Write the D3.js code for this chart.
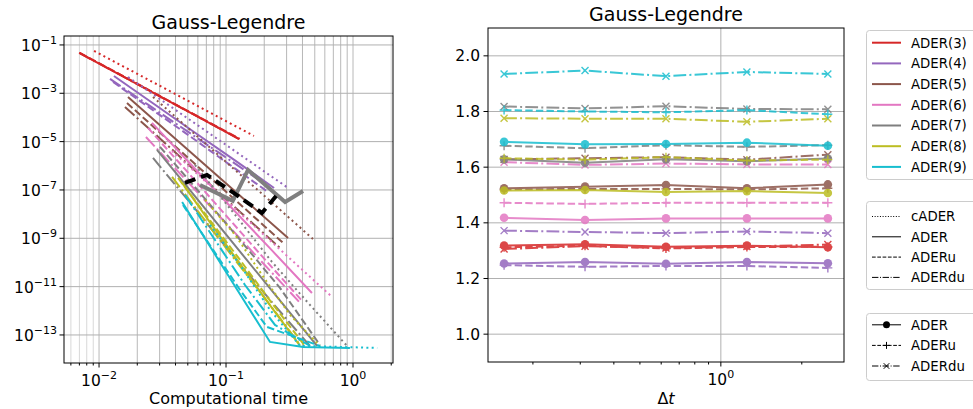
<!DOCTYPE html>
<html>
<head>
<meta charset="utf-8">
<script src="https://cdn.jsdelivr.net/npm/d3@7"></script>
<style>
  body { margin: 0; background: #fff; }
  svg { font-family: "DejaVu Sans", sans-serif; }
</style>
</head>
<body>
<svg id="chart" width="973" height="409"></svg>
<script>
// ---------- data ----------
const orders = ["ADER(3)", "ADER(4)", "ADER(5)", "ADER(6)", "ADER(7)", "ADER(8)", "ADER(9)"];
const colors = ["#d62728", "#9467bd", "#8c564b", "#e377c2", "#7f7f7f", "#bcbd22", "#17becf"];

// left panel: [computational time, error] per order
const cADERpts = [
  [[0.00914, 0.0565], [0.0189, 7.46e-3], [0.0390, 9.84e-4], [0.0805, 1.30e-4], [0.166, 1.72e-5]],
  [[0.0169, 4.74e-3], [0.0349, 3.37e-4], [0.0721, 2.40e-5], [0.149, 1.71e-6], [0.308, 1.21e-7]],
  [[0.0266, 7.06e-4], [0.0549, 2.40e-5], [0.113, 8.15e-7], [0.234, 2.77e-8], [0.484, 9.40e-10]],
  [[0.0376, 4.11e-6], [0.0776, 1.27e-7], [0.160, 3.93e-9], [0.331, 1.21e-10], [0.684, 3.75e-12]],
  [[0.0570, 1.08e-6], [0.118, 9.25e-9], [0.230, 1.05e-10], [0.458, 1.75e-12], [0.898, 3.52e-14]],
  [[0.0684, 3.87e-8], [0.118, 1.38e-9], [0.192, 3.05e-11], [0.319, 6.75e-13], [0.549, 3.52e-14]],
  [[0.0748, 3.57e-9], [0.129, 7.91e-11], [0.222, 1.09e-12], [0.383, 3.52e-14], [1.55, 2.91e-14]]
];
const ADERpts = [
  [[0.00697, 0.0467], [0.0144, 6.03e-3], [0.0297, 7.76e-4], [0.0613, 1.0e-4], [0.126, 1.29e-5]],
  [[0.0131, 5.21e-3], [0.0271, 3.62e-4], [0.0560, 2.51e-5], [0.116, 1.75e-6], [0.239, 1.21e-7]],
  [[0.0169, 7.06e-4], [0.0349, 2.46e-5], [0.0721, 8.55e-7], [0.149, 2.97e-8], [0.308, 1.03e-9]],
  [[0.0261, 5.93e-5], [0.0539, 1.03e-6], [0.111, 1.80e-8], [0.230, 3.15e-10], [0.475, 5.48e-12]],
  [[0.0286, 4.53e-6], [0.0592, 4.25e-8], [0.122, 3.99e-10], [0.252, 3.75e-12], [0.521, 3.52e-14]],
  [[0.0451, 1.95e-7], [0.0762, 3.93e-9], [0.129, 8.69e-11], [0.218, 1.92e-12], [0.383, 3.52e-14]],
  [[0.0451, 3.19e-8], [0.100, 4.06e-11], [0.222, 5.15e-14], [0.404, 3.2e-14], [0.946, 2.91e-14]]
];
const ADERuPts = [
  [[0.00705, 0.0470], [0.0146, 6.1e-3], [0.0300, 7.8e-4], [0.0620, 1.0e-4], [0.128, 1.3e-5]],
  [[0.0129, 2.94e-3], [0.0261, 2.14e-4], [0.0530, 1.56e-5], [0.106, 1.14e-6], [0.214, 8.28e-8]],
  [[0.0166, 3.98e-4], [0.0337, 1.39e-5], [0.0690, 4.82e-7], [0.141, 1.68e-8], [0.287, 5.85e-10]],
  [[0.0243, 3.68e-5], [0.0493, 5.83e-7], [0.0991, 9.25e-9], [0.199, 1.47e-10], [0.404, 2.33e-12]],
  [[0.0302, 6.03e-6], [0.0624, 7.53e-8], [0.129, 8.55e-10], [0.266, 8.83e-12], [0.549, 3.87e-14]],
  [[0.0419, 3.14e-7], [0.0734, 6.32e-9], [0.129, 1.27e-10], [0.226, 2.33e-12], [0.419, 3.52e-14]],
  [[0.0458, 2.40e-8], [0.0791, 3.30e-10], [0.129, 7.29e-12], [0.210, 2.15e-13], [0.549, 3.52e-14]]
];
const ADERduPts = [
  [[0.00700, 0.0465], [0.0145, 6.0e-3], [0.0298, 7.7e-4], [0.0616, 1.0e-4], [0.127, 1.28e-5]],
  [[0.0122, 3.92e-3], [0.0243, 3.37e-4], [0.0484, 2.90e-5], [0.0964, 2.50e-6], [0.192, 2.15e-7]],
  [[0.0160, 2.72e-4], [0.0325, 9.46e-6], [0.0653, 3.30e-7], [0.131, 1.15e-8], [0.266, 3.99e-10]],
  [[0.0234, 1.56e-5], [0.0471, 3.00e-7], [0.0946, 5.75e-9], [0.190, 1.10e-10], [0.383, 2.12e-12]],
  [[0.0266, 2.11e-6], [0.0539, 2.40e-8], [0.109, 2.48e-10], [0.222, 2.82e-12], [0.458, 3.52e-14]],
  [[0.0376, 3.46e-7], [0.0659, 6.95e-9], [0.118, 1.27e-10], [0.210, 2.56e-12], [0.383, 3.87e-14]],
  [[0.0475, 6.22e-8], [0.0819, 8.55e-10], [0.141, 1.17e-11], [0.243, 2.60e-13], [0.458, 3.52e-14]]
];
const thickBlackPts = [[0.0475, 1.95e-7], [0.0708, 4.18e-7], [0.118, 6.84e-8], [0.192, 1.12e-8], [0.248, 5.66e-8]];
const thickGrayPts = [[0.0624, 1.61e-7], [0.113, 3.52e-8], [0.149, 6.73e-7], [0.292, 3.19e-8], [0.404, 9.10e-8]];

// right panel
const dtValues = [0.15625, 0.3125, 0.625, 1.25, 2.5];
const rateADER = [
  [1.318, 1.323, 1.314, 1.318, 1.312],
  [1.254, 1.259, 1.253, 1.259, 1.255],
  [1.524, 1.530, 1.536, 1.524, 1.538],
  [1.418, 1.410, 1.416, 1.416, 1.416],
  [1.628, 1.616, 1.628, 1.621, 1.631],
  [1.516, 1.518, 1.511, 1.514, 1.507],
  [1.691, 1.682, 1.683, 1.688, 1.677]
];
const rateADERu = [
  [1.312, 1.318, 1.308, 1.313, 1.314],
  [1.248, 1.242, 1.245, 1.245, 1.238],
  [1.520, 1.522, 1.522, 1.520, 1.524],
  [1.472, 1.468, 1.472, 1.472, 1.472],
  [1.677, 1.668, 1.679, 1.673, 1.679],
  [1.632, 1.627, 1.636, 1.624, 1.627],
  [1.805, 1.800, 1.797, 1.805, 1.790]
];
const rateADERdu = [
  [1.306, 1.316, 1.310, 1.315, 1.322],
  [1.372, 1.367, 1.363, 1.369, 1.363],
  [1.628, 1.632, 1.636, 1.627, 1.645],
  [1.618, 1.608, 1.613, 1.610, 1.610],
  [1.818, 1.811, 1.819, 1.809, 1.808],
  [1.776, 1.774, 1.774, 1.763, 1.774],
  [1.935, 1.947, 1.927, 1.942, 1.935]
];

// ticks
const leftXMajor = [0.01, 0.1, 1];
const leftXMinor = [0.006, 0.007, 0.008, 0.009, 0.02, 0.03, 0.04, 0.05, 0.06, 0.07, 0.08, 0.09,
                    0.2, 0.3, 0.4, 0.5, 0.6, 0.7, 0.8, 0.9, 2];
const leftYMajor = [1e-1, 1e-3, 1e-5, 1e-7, 1e-9, 1e-11, 1e-13];
const rightYTicks = [1.0, 1.2, 1.4, 1.6, 1.8, 2.0];
const rightXMajor = [1];
const rightXMinor = [0.2, 0.3, 0.4, 0.5, 0.6, 0.7, 0.8, 0.9, 2];

const styleNames = ["cADER", "ADER", "ADERu", "ADERdu"];
const markerNames = ["ADER", "ADERu", "ADERdu"];

// ---------- drawing ----------
const svg = d3.select("#chart");
const dashes = { dot: "2,3.3", solid: null, dash: "7.4,3.2", dashdot: "12.8,3.2,2,3.2" };

function superLabel(sel, exp, x, y, anchor) {
  const t = sel.append("text").attr("x", x).attr("y", y)
    .attr("text-anchor", anchor).attr("font-size", 15.5).attr("fill", "#000");
  t.append("tspan").text("10");
  t.append("tspan").attr("dy", -7).attr("font-size", 11).text(exp);
}

// left panel
const L = { x0: 64, x1: 393, y0: 36, y1: 363 };
const xL = d3.scaleLog().domain([Math.pow(10, -2.276), Math.pow(10, 0.315)]).range([L.x0, L.x1]);
const yL = d3.scaleLog().domain([Math.pow(10, -0.63), Math.pow(10, -14.16)]).range([L.y0, L.y1]);

svg.append("clipPath").attr("id", "clipL").append("rect")
  .attr("x", L.x0).attr("y", L.y0).attr("width", L.x1 - L.x0).attr("height", L.y1 - L.y0);

const gL = svg.append("g");
gL.selectAll(".vgrid").data(leftXMinor.concat(leftXMajor)).enter().append("line")
  .attr("x1", d => xL(d)).attr("x2", d => xL(d)).attr("y1", L.y0).attr("y2", L.y1)
  .attr("stroke", d => (d < 0.01 || d > 1) ? "#d8d8d8" : "#b8b8b8").attr("stroke-width", 1);
gL.selectAll(".hgrid").data(leftYMajor).enter().append("line")
  .attr("x1", L.x0).attr("x2", L.x1).attr("y1", d => yL(d)).attr("y2", d => yL(d))
  .attr("stroke", "#b0b0b0").attr("stroke-width", 1);

const lineL = d3.line().x(d => xL(d[0])).y(d => yL(d[1]));
const plotL = gL.append("g").attr("clip-path", "url(#clipL)");
for (let i = 0; i < orders.length; i++) {
  [[cADERpts, dashes.dot], [ADERpts, dashes.solid], [ADERuPts, dashes.dash], [ADERduPts, dashes.dashdot]]
    .forEach(([set, da]) => {
      plotL.append("path").datum(set[i]).attr("d", lineL)
        .attr("fill", "none").attr("stroke", colors[i]).attr("stroke-width", 2)
        .attr("stroke-dasharray", da);
    });
}
plotL.append("path").datum(thickGrayPts).attr("d", lineL)
  .attr("fill", "none").attr("stroke", "#7f7f7f").attr("stroke-width", 4);
plotL.append("path").datum(thickBlackPts).attr("d", lineL)
  .attr("fill", "none").attr("stroke", "#000").attr("stroke-width", 4)
  .attr("stroke-dasharray", "11,6");

gL.append("rect").attr("x", L.x0).attr("y", L.y0).attr("width", L.x1 - L.x0).attr("height", L.y1 - L.y0)
  .attr("fill", "none").attr("stroke", "#000").attr("stroke-width", 1);

gL.selectAll(".xt").data(leftXMajor).enter().append("line")
  .attr("x1", d => xL(d)).attr("x2", d => xL(d)).attr("y1", L.y1).attr("y2", L.y1 + 4.5).attr("stroke", "#000");
gL.selectAll(".xtm").data(leftXMinor).enter().append("line")
  .attr("x1", d => xL(d)).attr("x2", d => xL(d)).attr("y1", L.y1).attr("y2", L.y1 + 2.5).attr("stroke", "#000");
gL.selectAll(".yt").data(leftYMajor).enter().append("line")
  .attr("x1", L.x0 - 4.5).attr("x2", L.x0).attr("y1", d => yL(d)).attr("y2", d => yL(d)).attr("stroke", "#000");
leftXMajor.forEach(v => superLabel(gL, d3.format("d")(Math.log10(v)).replace("-", "\u2212"), xL(v), 386, "middle"));
leftYMajor.forEach(v => superLabel(gL, "\u2212" + Math.round(-Math.log10(v)), 57, yL(v) + 6, "end"));

gL.append("text").attr("x", (L.x0 + L.x1) / 2).attr("y", 29).attr("text-anchor", "middle")
  .attr("font-size", 19).text("Gauss-Legendre");
gL.append("text").attr("x", (L.x0 + L.x1) / 2).attr("y", 404).attr("text-anchor", "middle")
  .attr("font-size", 16).text("Computational time");
// y label sits mostly outside the page, as in the original figure
gL.append("text").attr("transform", "translate(-1,199) rotate(-90)").attr("text-anchor", "middle")
  .attr("font-size", 16).attr("fill", "#aaa").text("Error");

// right panel
const R = { x0: 488, x1: 844, y0: 28, y1: 362 };
const xR = d3.scaleLog().domain([Math.pow(10, -0.866), Math.pow(10, 0.458)]).range([R.x0, R.x1]);
const yR = d3.scaleLinear().domain([0.9, 2.1]).range([R.y1, R.y0]);

const gR = svg.append("g");
gR.selectAll(".hg").data(rightYTicks).enter().append("line")
  .attr("x1", R.x0).attr("x2", R.x1).attr("y1", d => yR(d)).attr("y2", d => yR(d))
  .attr("stroke", "#b0b0b0").attr("stroke-width", 1);
gR.selectAll(".vg").data(rightXMajor).enter().append("line")
  .attr("x1", d => xR(d)).attr("x2", d => xR(d)).attr("y1", R.y0).attr("y2", R.y1)
  .attr("stroke", "#b0b0b0").attr("stroke-width", 1);

const lineR = d3.line().x((d, j) => xR(dtValues[j])).y(d => yR(d));
const plusPath = "M-4.5,0H4.5M0,-4.5V4.5";
const crossPath = "M-3.5,-3.5L3.5,3.5M-3.5,3.5L3.5,-3.5";
for (let i = 0; i < orders.length; i++) {
  const c = colors[i];
  const g = gR.append("g").attr("opacity", 0.85);
  g.append("path").datum(rateADER[i]).attr("d", lineR).attr("fill", "none").attr("stroke", c).attr("stroke-width", 2);
  g.selectAll(".m").data(rateADER[i]).enter().append("circle")
    .attr("cx", (d, j) => xR(dtValues[j])).attr("cy", d => yR(d)).attr("r", 4.3).attr("fill", c);
  g.append("path").datum(rateADERu[i]).attr("d", lineR).attr("fill", "none").attr("stroke", c)
    .attr("stroke-width", 2).attr("stroke-dasharray", dashes.dash);
  g.selectAll(".p").data(rateADERu[i]).enter().append("path")
    .attr("transform", (d, j) => `translate(${xR(dtValues[j])},${yR(d)})`)
    .attr("d", plusPath).attr("stroke", c).attr("stroke-width", 1.4);
  g.append("path").datum(rateADERdu[i]).attr("d", lineR).attr("fill", "none").attr("stroke", c)
    .attr("stroke-width", 2).attr("stroke-dasharray", dashes.dashdot);
  g.selectAll(".x").data(rateADERdu[i]).enter().append("path")
    .attr("transform", (d, j) => `translate(${xR(dtValues[j])},${yR(d)})`)
    .attr("d", crossPath).attr("stroke", c).attr("stroke-width", 1.4);
}

gR.append("rect").attr("x", R.x0).attr("y", R.y0).attr("width", R.x1 - R.x0).attr("height", R.y1 - R.y0)
  .attr("fill", "none").attr("stroke", "#000").attr("stroke-width", 1);
gR.selectAll(".yt").data(rightYTicks).enter().append("line")
  .attr("x1", R.x0 - 4.5).attr("x2", R.x0).attr("y1", d => yR(d)).attr("y2", d => yR(d)).attr("stroke", "#000");
gR.selectAll(".ytl").data(rightYTicks).enter().append("text")
  .attr("x", R.x0 - 8).attr("y", d => yR(d) + 5.5).attr("text-anchor", "end")
  .attr("font-size", 15.5).text(d => d.toFixed(1));
gR.selectAll(".xt").data(rightXMajor).enter().append("line")
  .attr("x1", d => xR(d)).attr("x2", d => xR(d)).attr("y1", R.y1).attr("y2", R.y1 + 4.5).attr("stroke", "#000");
gR.selectAll(".xtm").data(rightXMinor).enter().append("line")
  .attr("x1", d => xR(d)).attr("x2", d => xR(d)).attr("y1", R.y1).attr("y2", R.y1 + 2.5).attr("stroke", "#000");
rightXMajor.forEach(v => superLabel(gR, String(Math.log10(v)), xR(v), 385, "middle"));

gR.append("text").attr("x", (R.x0 + R.x1) / 2).attr("y", 21).attr("text-anchor", "middle")
  .attr("font-size", 19).text("Gauss-Legendre");
const dtLab = gR.append("text").attr("x", (R.x0 + R.x1) / 2).attr("y", 404).attr("text-anchor", "middle")
  .attr("font-size", 16);
dtLab.append("tspan").text("\u0394");
dtLab.append("tspan").attr("font-style", "italic").text("t");

// legends
function legendBox(y, h) {
  svg.append("rect").attr("x", 866.5).attr("y", y).attr("width", 120).attr("height", h)
    .attr("rx", 3).attr("fill", "#fff").attr("fill-opacity", 0.8)
    .attr("stroke", "#cccccc").attr("stroke-width", 1);
}
legendBox(30.5, 149);
orders.forEach((name, i) => {
  const y = 42.7 + i * 20.7;
  svg.append("line").attr("x1", 872).attr("x2", 901).attr("y1", y).attr("y2", y)
    .attr("stroke", colors[i]).attr("stroke-width", 2);
  svg.append("text").attr("x", 911).attr("y", y + 4.8).attr("font-size", 13.3).text(name);
});

legendBox(201.5, 88);
const legend2Dash = ["1,1.65", null, "3.7,1.6", "6.4,1.6,1,1.6"];
styleNames.forEach((name, i) => {
  const y = 216.5 + i * 20.3;
  svg.append("line").attr("x1", 872).attr("x2", 901).attr("y1", y).attr("y2", y)
    .attr("stroke", "#000").attr("stroke-width", 1).attr("stroke-dasharray", legend2Dash[i]);
  svg.append("text").attr("x", 911).attr("y", y + 4.8).attr("font-size", 13.3).text(name);
});

legendBox(313.5, 67);
const legend3Dash = [null, "3.7,1.6", "6.4,1.6,1,1.6"];
markerNames.forEach((name, i) => {
  const y = 324.8 + i * 20.6;
  svg.append("line").attr("x1", 872).attr("x2", 901).attr("y1", y).attr("y2", y)
    .attr("stroke", "#000").attr("stroke-width", 1).attr("stroke-dasharray", legend3Dash[i]);
  if (i === 0) {
    svg.append("circle").attr("cx", 886.5).attr("cy", y).attr("r", 3.5).attr("fill", "#000");
  } else {
    svg.append("path").attr("transform", `translate(886.5,${y})`)
      .attr("d", i === 1 ? "M-3.5,0H3.5M0,-3.5V3.5" : "M-2.8,-2.8L2.8,2.8M-2.8,2.8L2.8,-2.8")
      .attr("stroke", "#000").attr("stroke-width", 1);
  }
  svg.append("text").attr("x", 911).attr("y", y + 4.8).attr("font-size", 13.3).text(name);
});
</script>
</body>
</html>
